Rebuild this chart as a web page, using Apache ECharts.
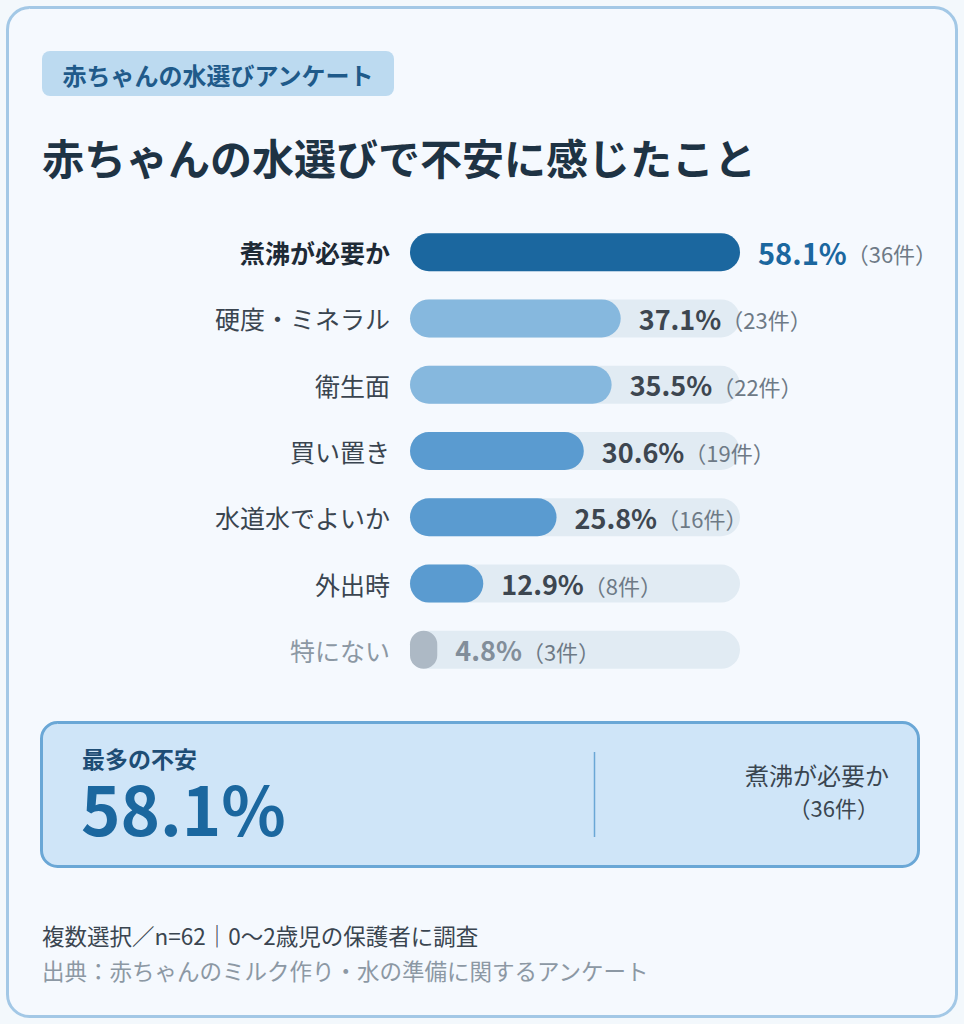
<!DOCTYPE html>
<html lang="ja">
<head>
<meta charset="utf-8">
<title>赤ちゃんの水選びで不安に感じたこと</title>
<script src="https://cdn.jsdelivr.net/npm/echarts@6/dist/echarts.min.js"></script>
<style>
  html, body { margin: 0; padding: 0; background: #f3f8fc; }
  #chart { width: 964px; height: 1024px; }
</style>
</head>
<body>
<div id="chart"></div>
<script>
// data
const categories = ['煮沸が必要か', '硬度・ミネラル', '衛生面', '買い置き', '水道水でよいか', '外出時', '特にない'];
const percents = [58.1, 37.1, 35.5, 30.6, 25.8, 12.9, 4.8];
const counts = [36, 23, 22, 19, 16, 8, 3];
const barColors = ['#1b679f', '#86b8de', '#86b8de', '#5a9bd0', '#5a9bd0', '#5a9bd0', '#adb9c5'];

const badgeText = '赤ちゃんの水選びアンケート';
const titleText = '赤ちゃんの水選びで不安に感じたこと';
const summaryLabel = '最多の不安';
const noteText = '複数選択／n=62｜0〜2歳児の保護者に調査';
const sourceText = '出典：赤ちゃんのミルク作り・水の準備に関するアンケート';

const FONT = '"Noto Sans CJK JP", "Noto Sans", sans-serif';
const maxVal = Math.max(...percents);
const topIdx = percents.indexOf(maxVal);
const last = categories.length - 1;

const chart = echarts.init(document.getElementById('chart'), null, { renderer: 'svg' });

const option = {
  backgroundColor: '#f3f8fc',
  textStyle: { fontFamily: FONT },
  grid: { left: 410, width: 330, top: 219, height: 464 },
  xAxis: {
    type: 'value', min: 0, max: maxVal, show: false
  },
  yAxis: {
    type: 'category',
    inverse: true,
    data: categories,
    axisLine: { show: false },
    axisTick: { show: false },
    axisLabel: {
      margin: 20,
      formatter: (v, i) => {
        if (i === topIdx) return '{b|' + v + '}';
        if (i === last) return '{g|' + v + '}';
        return '{n|' + v + '}';
      },
      rich: {
        b: { fontFamily: FONT, fontSize: 25, fontWeight: 'bold', color: '#1e2a36' },
        n: { fontFamily: FONT, fontSize: 25, color: '#3a4550' },
        g: { fontFamily: FONT, fontSize: 25, color: '#8c98a4' }
      }
    }
  },
  series: [{
    type: 'bar',
    barWidth: 38,
    data: percents.map((v, i) => ({ value: v, itemStyle: { color: barColors[i] } })),
    itemStyle: { borderRadius: 19 },
    showBackground: true,
    backgroundStyle: { color: '#e1ebf3', borderRadius: 19 },
    label: {
      show: true,
      position: 'right',
      distance: 18,
      formatter: p => {
        const i = p.dataIndex;
        const k = i === topIdx ? 't' : (i === last ? 'g' : 'p');
        return '{' + k + '|' + percents[i].toFixed(1) + '%}{c|（' + counts[i] + '件）}';
      },
      rich: {
        t: { fontFamily: FONT, fontSize: 29, fontWeight: 'bold', color: '#1b679f' },
        p: { fontFamily: FONT, fontSize: 27, fontWeight: 'bold', color: '#3d4650' },
        g: { fontFamily: FONT, fontSize: 27, fontWeight: 'bold', color: '#828e9a' },
        c: { fontFamily: FONT, fontSize: 22, color: '#6e7a86', padding: [2, 0, 0, 0] }
      }
    },
    silent: true
  }],
  graphic: [
    // card
    {
      type: 'rect', z: -10,
      shape: { x: 7.5, y: 7.5, width: 949, height: 1009, r: 22 },
      style: { fill: '#f5f9fe', stroke: '#a3c8e6', lineWidth: 3 }
    },
    // badge
    {
      type: 'rect',
      shape: { x: 42, y: 51, width: 352, height: 45, r: 8 },
      style: { fill: '#bcdaf0' }
    },
    {
      type: 'text', x: 218, y: 74,
      style: { text: badgeText, fontFamily: FONT, fontSize: 24, fontWeight: 'bold', fill: '#1f5a8a', align: 'center', verticalAlign: 'middle' }
    },
    // title
    {
      type: 'text', x: 42, y: 156,
      style: { text: titleText, fontFamily: FONT, fontSize: 42, fontWeight: 'bold', fill: '#1e3344', verticalAlign: 'middle' }
    },
    // summary box
    {
      type: 'rect',
      shape: { x: 41.5, y: 722.5, width: 877, height: 144, r: 16 },
      style: { fill: '#cfe5f8', stroke: '#6aa7d6', lineWidth: 3 }
    },
    {
      type: 'text', x: 81, y: 740,
      style: {
        text: '{a|' + summaryLabel + '}\n{b|' + maxVal.toFixed(1) + '%}',
        verticalAlign: 'top',
        rich: {
          a: { fontFamily: FONT, fontSize: 23, fontWeight: 'bold', fill: '#1e4d75', lineHeight: 36, padding: [0, 0, 0, 1] },
          b: { fontFamily: FONT, fontSize: 67, fontWeight: 'bold', fill: '#1b679f', lineHeight: 60 }
        }
      }
    },
    {
      type: 'line',
      shape: { x1: 594.5, y1: 752, x2: 594.5, y2: 837 },
      style: { stroke: '#6aa7d6', lineWidth: 1.5 }
    },
    {
      type: 'text', x: 889, y: 774,
      style: { text: categories[topIdx], fontFamily: FONT, fontSize: 24, fill: '#3a4550', align: 'right', verticalAlign: 'middle' }
    },
    {
      type: 'text', x: 879, y: 807,
      style: { text: '（' + counts[topIdx] + '件）', fontFamily: FONT, fontSize: 22, fill: '#3a4550', align: 'right', verticalAlign: 'middle' }
    },
    // footnotes
    {
      type: 'text', x: 42, y: 935,
      style: { text: noteText, fontFamily: FONT, fontSize: 22.5, fill: '#3a4550', verticalAlign: 'middle' }
    },
    {
      type: 'text', x: 42, y: 970,
      style: { text: sourceText, fontFamily: FONT, fontSize: 22.5, fill: '#8c98a4', verticalAlign: 'middle' }
    }
  ]
};

chart.setOption(option);
</script>
</body>
</html>
